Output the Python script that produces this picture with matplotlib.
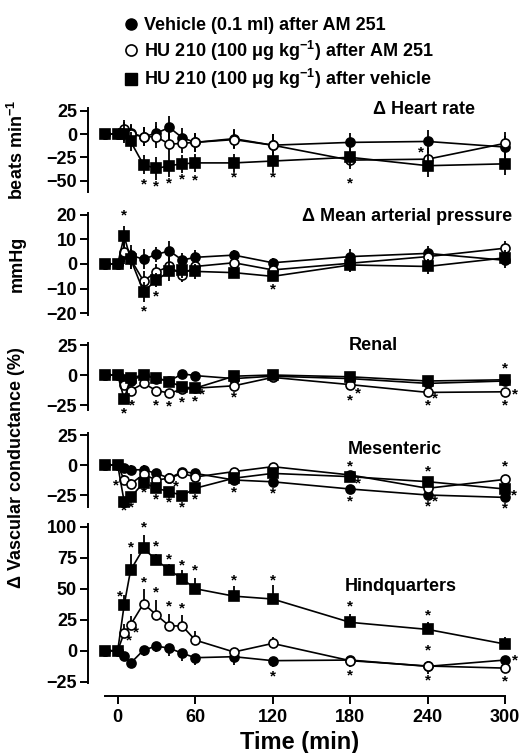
import numpy as np
import matplotlib
matplotlib.use('Agg')
import matplotlib.pyplot as plt
from matplotlib.lines import Line2D

plt.rcParams['font.family'] = ['Liberation Sans', 'DejaVu Sans']
plt.rcParams['font.weight'] = 'bold'
plt.rcParams['axes.labelweight'] = 'bold'
plt.rcParams['mathtext.fontset'] = 'custom'
plt.rcParams['mathtext.rm'] = 'Liberation Sans:bold'
plt.rcParams['mathtext.bf'] = 'Liberation Sans:bold'
plt.rcParams['mathtext.default'] = 'bf'

# time points (min)
times = [-10, 0, 5, 10, 20, 30, 40, 50, 60, 90, 120, 180, 240, 300]

# heart rate (beats/min)
hr_veh = [0, 0, 3, 1, -3, 1, 7, -4, -9, -5, -12, -9, -8, -14]
hr_hu_am = [0, 0, 5, 0, -3, -3, -11, -10, -9, -6, -12, -28, -27, -10]
hr_hu_veh = [0, 0, 0, -8, -33, -37, -34, -32, -31, -31, -29, -25, -34, -32]
hr_err = [0, 0, 10, 10, 10, 12, 12, 10, 10, 10, 12, 10, 12, 12]

# mean arterial pressure (mmHg)
map_veh = [0, 0, 4, 3.6, 1.9, 3.9, 5.3, 1.6, 2.7, 3.6, 0.5, 3, 4.3, 1.5]
map_hu_am = [0, 0, 5, 2, -6.9, -3.1, -1, -4.4, -1, 0.5, -2.4, 0.3, 3, 6.4]
map_hu_veh = [0, 0, 11.3, 2, -11.2, -6.5, -3, -2.6, -3, -3.5, -5, -0.4, -1, 2.5]
map_err = [0, 0, 4, 4, 4, 3, 4, 3, 3, 2, 2, 3, 3, 3]

# renal vascular conductance (%)
ren_veh = [0, 0, -3, -5, 0, -3, -5, 1, -0.5, -3, -1, -3, -7, -5]
ren_hu_am = [0, 0, -8, -13, -7, -13, -15, -12, -11, -9, -2, -8, -14.5, -14]
ren_hu_veh = [0, 0, -20, -2.5, 0, -2.5, -5.5, -10, -11, -1, 0, -1.5, -5, -4]
ren_err = [0, 0, 3, 3, 2, 2, 2, 2, 2, 2, 2, 2, 2, 3]

# mesenteric vascular conductance (%)
mes_veh = [0, 0, -2.8, -4, -4, -7, -11, -5.5, -7, -12.5, -14, -20, -25, -27]
mes_hu_am = [0, 0, -12.5, -15.8, -7.8, -12.5, -11, -7, -10, -5.5, -1.4, -8.3, -19.4, -12]
mes_hu_veh = [0, 0, -30.5, -27, -14.7, -19.4, -22.2, -25.5, -19.4, -11, -7, -9.7, -13.9, -20]
mes_err = [0, 0, 4, 4, 4, 4, 4, 3, 3, 3, 3, 3, 3, 3]

# hindquarters vascular conductance (%)
hq_veh = [0, 0, -4.3, -10, 0.5, 3.8, 2, -2, -5.6, -4.8, -8, -7.5, -12.6, -7.5]
hq_hu_am = [0, 0, 14.5, 21, 38, 28.8, 20, 20, 8.6, -1, 5.9, -8, -12.3, -14]
hq_hu_veh = [0, 0, 36.8, 65, 82.5, 73, 65, 58, 50, 44, 41.7, 22.9, 17.2, 5.4]
hq_err_veh = [0, 0, 4, 4, 5, 5, 6, 6, 6, 7, 5, 6, 6, 5]
hq_err_am = [0, 0, 7, 7, 12, 12, 10, 9, 7, 3, 5, 4, 4, 4]
hq_err_veh2 = [0, 0, 8, 13, 11, 5, 5, 7, 9, 8, 11, 7, 6, 6]

# significance asterisks (time, value) per panel
hr_stars = [(20, -53.6), (30, -56.5), (40, -53), (50, -49), (60, -50), (90, -47),
            (120, -47), (180, -53), (235, -20)]
map_stars = [(5, 19.8), (20, -19.3), (30, -13.2), (120, -10.5)]
ren_stars = [(5, -32), (11.4, -25), (30, -25), (40, -26), (50, -23), (60, -22),
             (65.6, -16.6), (90, -19), (180, -21), (186, -15.5), (240, -25),
             (245.7, -19.7), (300, 5.5), (307.8, -16.6), (300, -25)]
mes_stars = [(-1, -16.7), (5, -38), (10.5, -35.3), (20, -23), (30, -29), (40, -31.4),
             (50, -35), (60, -29), (45.5, -17.5), (90, -23), (120, -23.6), (180, -1.4),
             (180, -30.6), (186, -15.8), (240, -5.6), (240, -34.2), (246, -30),
             (300, -1.4), (300, -36), (307, -25)]
hq_stars = [(1.5, 43.5), (10, 83.3), (20, 99.5), (30, 84.4), (40, 73.7), (50, 69),
            (60, 64.7), (90, 57), (120, 57), (180, 36), (240, 28.8),
            (20, 55), (30, 47), (40, 35.7), (50, 34), (14.5, 15), (8.8, 8.6),
            (120, -21), (180, -19.7), (240, -24.3), (240, 0), (300, -25), (307.8, -8)]

labels = ['Vehicle (0.1 ml) after AM 251',
          'HU 210 (100 \u03bcg kg$^{-1}$) after AM 251',
          'HU 210 (100 \u03bcg kg$^{-1}$) after vehicle']

W, H = 522, 753
fig = plt.figure(figsize=(W / 100, H / 100), dpi=100)

def add_ax(top_px, bot_px):
    left, right = 88, 511.5
    return fig.add_axes([left / W, 1 - bot_px / H, (right - left) / W, (bot_px - top_px) / H])

def series(ax, y, err, side, marker, face, z):
    y = np.array(y, float)
    e = np.array(err, float)
    lo = y - e if side in ('both', 'down') else y
    hi = y + e if side in ('both', 'up') else y
    ax.vlines(times, lo, hi, color='black', lw=1.3, zorder=z - 1)
    ax.plot(times, y, color='black', lw=1.2, marker=marker, ms=7 if marker == 's' else 6.5,
            mfc=face, mec='black', mew=1.2, zorder=z)

def stars(ax, pts):
    for t, v in pts:
        ax.text(t, v, '*', ha='center', va='center', fontsize=11, clip_on=False)

def style(ax, ylim, yticks, bottom=False):
    ax.set_xlim(-23, 305)
    ax.set_ylim(*ylim)
    ax.set_yticks(yticks)
    for s in ('top', 'right'):
        ax.spines[s].set_visible(False)
    ax.spines['left'].set_linewidth(1.4)
    ax.spines['left'].set_bounds(ylim[0], ylim[1])
    ax.tick_params(axis='y', direction='out', length=6, width=1.4, labelsize=13, pad=2)
    if bottom:
        ax.spines['bottom'].set_position(('outward', 9.5))
        ax.spines['bottom'].set_bounds(-10, 300)
        ax.spines['bottom'].set_linewidth(1.4)
        ax.set_xticks([0, 60, 120, 180, 240, 300])
        ax.tick_params(axis='x', direction='out', length=6, width=1.4, labelsize=13, pad=3)
    else:
        ax.spines['bottom'].set_visible(False)
        ax.set_xticks([])
    ax.patch.set_alpha(0)

panels = [
    (107.9, 191.8, (-62, 28), [-50, -25, 0, 25],
     [hr_veh, hr_hu_am, hr_hu_veh], [hr_err] * 3, ['both'] * 3, hr_stars,
     '\u0394 Heart rate', (0.793, 0.975)),
    (213.4, 314.6, (-20.5, 20.5), [-20, -10, 0, 10, 20],
     [map_veh, map_hu_am, map_hu_veh], [map_err] * 3, ['both'] * 3, map_stars,
     '\u0394 Mean arterial pressure', (0.754, 0.974)),
    (342.6, 409.8, (-29, 27), [-25, 0, 25],
     [ren_veh, ren_hu_am, ren_hu_veh], [ren_err] * 3, ['both'] * 3, ren_stars,
     'Renal', (0.673, 0.964)),
    (432.6, 507.0, (-35, 27), [-25, 0, 25],
     [mes_veh, mes_hu_am, mes_hu_veh], [mes_err] * 3, ['both'] * 3, mes_stars,
     'Mesenteric', (0.725, 0.775)),
    (524.2, 683.0, (-26, 102), [-25, 0, 25, 50, 75, 100],
     [hq_veh, hq_hu_am, hq_hu_veh], [hq_err_veh, hq_err_am, hq_err_veh2],
     ['down', 'up', 'up'], hq_stars, 'Hindquarters', (0.739, 0.605)),
]

axes = []
for i, (top, bot, ylim, yt, data, errs, sides, st, title, tpos) in enumerate(panels):
    ax = add_ax(top, bot)
    style(ax, ylim, yt, bottom=(i == len(panels) - 1))
    series(ax, data[0], errs[0], sides[0], 'o', 'black', 4)
    series(ax, data[1], errs[1], sides[1], 'o', 'white', 5)
    series(ax, data[2], errs[2], sides[2], 's', 'black', 6)
    stars(ax, st)
    ax.text(tpos[0], tpos[1], title, transform=ax.transAxes, ha='center', va='center',
            fontsize=13)
    axes.append(ax)

axes[-1].set_xlabel('Time (min)', fontsize=17, fontweight='bold', labelpad=4)

fig.text(17 / W, 1 - 150 / H, 'beats min$^{-1}$', rotation=90, ha='center', va='center', fontsize=13)
fig.text(17 / W, 1 - 264 / H, 'mmHg', rotation=90, ha='center', va='center', fontsize=13)
fig.text(17 / W, 1 - 468 / H, '\u0394 Vascular conductance (%)', rotation=90, ha='center',
         va='center', fontsize=13)

handles = [Line2D([], [], ls='none', marker='o', mfc='black', mec='black', ms=8),
           Line2D([], [], ls='none', marker='o', mfc='white', mec='black', mew=1.2, ms=8),
           Line2D([], [], ls='none', marker='s', mfc='black', mec='black', ms=8)]
fig.legend(handles, labels, loc='upper left', bbox_to_anchor=(115 / W, 1 - 8 / H),
           frameon=False, fontsize=13, handlelength=0.8, handletextpad=0.3,
           labelspacing=0.25, borderpad=0)

fig.savefig('out.png', dpi=100)
